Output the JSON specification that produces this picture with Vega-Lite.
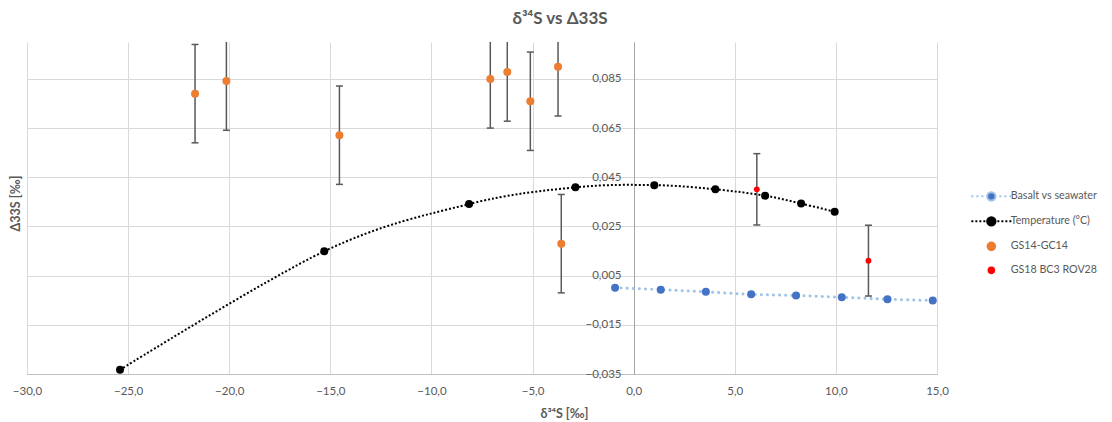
{
  "$schema": "https://vega.github.io/schema/vega-lite/v6.json",
  "width": 910,
  "height": 332,
  "autosize": {"type": "none"},
  "padding": {"left": 27, "top": 42, "right": 175, "bottom": 48},
  "background": "white",
  "title": {"text": "δ³⁴S vs Δ33S", "fontSize": 17, "font": "Lato", "fontWeight": "bold", "color": "#595959", "anchor": "middle", "frame": "group", "dx": 78, "offset": 14},
  "config": {
    "view": {"stroke": null},
    "axis": {"labelFont": "Lato", "labelFontSize": 11.5, "labelColor": "#595959", "titleFont": "Lato", "titleFontSize": 12.5, "titleFontWeight": "bold", "titleColor": "#595959", "gridColor": "#D9D9D9", "gridWidth": 1, "ticks": false},
    "legend": {"title": null, "orient": "none", "legendX": 959, "legendY": 149, "symbolSize": 64, "symbolOpacity": 1, "labelOffset": 14, "rowPadding": 8, "symbolStrokeWidth": 2, "labelFont": "Lato", "labelFontSize": 10.7, "labelColor": "#595959"}
  },
  "data": {"values": [
    {"series": "Basalt vs seawater", "x": -0.92, "y": 0.0001},
    {"series": "Basalt vs seawater", "x": 1.34, "y": -0.0007},
    {"series": "Basalt vs seawater", "x": 3.57, "y": -0.0016},
    {"series": "Basalt vs seawater", "x": 5.81, "y": -0.0026},
    {"series": "Basalt vs seawater", "x": 8.03, "y": -0.0031},
    {"series": "Basalt vs seawater", "x": 10.29, "y": -0.0038},
    {"series": "Basalt vs seawater", "x": 12.55, "y": -0.0046},
    {"series": "Basalt vs seawater", "x": 14.79, "y": -0.0051},
    {"series": "Temperature (°C)", "x": -25.4, "y": -0.0333},
    {"series": "Temperature (°C)", "x": -15.3, "y": 0.0149},
    {"series": "Temperature (°C)", "x": -8.14, "y": 0.0341},
    {"series": "Temperature (°C)", "x": -2.88, "y": 0.0409},
    {"series": "Temperature (°C)", "x": 1.02, "y": 0.0418},
    {"series": "Temperature (°C)", "x": 4.04, "y": 0.0401},
    {"series": "Temperature (°C)", "x": 6.5, "y": 0.0375},
    {"series": "Temperature (°C)", "x": 8.28, "y": 0.0343},
    {"series": "Temperature (°C)", "x": 9.94, "y": 0.031},
    {"series": "GS14-GC14", "x": -21.69, "y": 0.079, "lo": 0.059, "hi": 0.099},
    {"series": "GS14-GC14", "x": -20.14, "y": 0.0841, "lo": 0.0641, "hi": 0.1041},
    {"series": "GS14-GC14", "x": -14.55, "y": 0.0621, "lo": 0.0421, "hi": 0.0821},
    {"series": "GS14-GC14", "x": -7.09, "y": 0.085, "lo": 0.065, "hi": 0.105},
    {"series": "GS14-GC14", "x": -6.25, "y": 0.0878, "lo": 0.0678, "hi": 0.1078},
    {"series": "GS14-GC14", "x": -5.11, "y": 0.0759, "lo": 0.0559, "hi": 0.0959},
    {"series": "GS14-GC14", "x": -3.74, "y": 0.0899, "lo": 0.0699, "hi": 0.1099},
    {"series": "GS14-GC14", "x": -3.58, "y": 0.018, "lo": -0.002, "hi": 0.038},
    {"series": "GS18 BC3 ROV28", "x": 6.09, "y": 0.0401, "lo": 0.0256, "hi": 0.0546},
    {"series": "GS18 BC3 ROV28", "x": 11.61, "y": 0.0111, "lo": -0.0033, "hi": 0.0255}
  ]},
  "encoding": {
    "x": {"field": "x", "type": "quantitative",
      "scale": {"domain": [-30, 15], "nice": false, "zero": false},
      "axis": {"title": "δ³⁴S [‰]", "values": [-30, -25, -20, -15, -10, -5, 0, 5, 10, 15],
        "labelExpr": "replace(format(datum.value, '.1f'), '.', ',')",
        "labelFlush": false, "labelOverlap": false, "labelBound": false, "labelPadding": 11,
        "domainColor": "#BFBFBF", "titleX": 537, "titleY": 39, "titleBaseline": "middle"}},
    "y": {"field": "y", "type": "quantitative",
      "scale": {"domain": [-0.035, 0.1], "nice": false, "zero": false},
      "axis": {"title": "Δ33S [‰]", "values": [-0.035, -0.015, 0.005, 0.025, 0.045, 0.065, 0.085],
        "labelExpr": "replace(format(datum.value, '.3f'), '.', ',')",
        "offset": -607, "labelPadding": 13, "labelOverlap": false, "labelBound": false,
        "domainColor": "#A6A6A6", "titleX": -619, "titleY": 161, "titleBaseline": "middle", "titleAngle": -90}}
  },
  "layer": [
    {
      "transform": [{"filter": "false"}],
      "mark": {"type": "point", "filled": true, "opacity": 1},
      "encoding": {
        "fill": {"field": "series", "type": "nominal",
          "scale": {"domain": ["Basalt vs seawater", "Temperature (°C)", "GS14-GC14", "GS18 BC3 ROV28"], "range": ["#4472C4", "#000000", "#ED7D31", "#FF0000"]}},
        "stroke": {"field": "series", "type": "nominal",
          "scale": {"domain": ["Basalt vs seawater", "Temperature (°C)", "GS14-GC14", "GS18 BC3 ROV28"], "range": ["#9DC3E6", "#000000", "#ED7D31", "#FF0000"]}},
        "shape": {"field": "series", "type": "nominal",
          "scale": {"domain": ["Basalt vs seawater", "Temperature (°C)", "GS14-GC14", "GS18 BC3 ROV28"],
            "range": [
              "M-5,0L-4.5,0M-3.75,0L-3.25,0M-2.5,0L-2,0M2,0L2.5,0M3.25,0L3.75,0M4.5,0L5,0M1.05,0A1.05,1.05,0,1,1,-1.05,0A1.05,1.05,0,1,1,1.05,0Z",
              "M-5,0L-4.5,0M-4,0L-3.5,0M-3,0L-2.5,0M-2,0L-1.5,0M1.5,0L2,0M2.5,0L3,0M3.5,0L4,0M4.5,0L5,0M1.05,0A1.05,1.05,0,1,1,-1.05,0A1.05,1.05,0,1,1,1.05,0Z",
              "M0.95,0A0.95,0.95,0,1,1,-0.95,0A0.95,0.95,0,1,1,0.95,0Z",
              "M0.7,0A0.7,0.7,0,1,1,-0.7,0A0.7,0.7,0,1,1,0.7,0Z"]}}
      }
    },
    {
      "transform": [{"filter": "datum.series === 'Basalt vs seawater'"}],
      "mark": {"type": "line", "interpolate": "cardinal", "color": "#9DC3E6", "strokeWidth": 3, "strokeDash": [0.1, 6], "strokeCap": "round", "clip": true},
      "encoding": {}
    },
    {
      "transform": [{"filter": "datum.series === 'Temperature (°C)'"}],
      "mark": {"type": "line", "interpolate": "cardinal", "color": "#000000", "strokeWidth": 2, "strokeDash": [2, 2], "clip": true},
      "encoding": {}
    },
    {
      "transform": [{"filter": "isValid(datum.lo)"}],
      "mark": {"type": "rule", "color": "#595959", "strokeWidth": 1.5, "clip": true},
      "encoding": {"y": {"field": "lo", "type": "quantitative", "axis": {"title": "Δ33S [‰]"}}, "y2": {"field": "hi"}}
    },
    {
      "transform": [{"filter": "isValid(datum.lo)"}],
      "mark": {"type": "tick", "orient": "horizontal", "color": "#595959", "size": 7, "thickness": 1.5, "clip": true, "opacity": 1},
      "encoding": {"y": {"field": "lo", "type": "quantitative", "axis": {"title": "Δ33S [‰]"}}}
    },
    {
      "transform": [{"filter": "isValid(datum.hi)"}],
      "mark": {"type": "tick", "orient": "horizontal", "color": "#595959", "size": 7, "thickness": 1.5, "clip": true, "opacity": 1},
      "encoding": {"y": {"field": "hi", "type": "quantitative", "axis": {"title": "Δ33S [‰]"}}}
    },
    {
      "transform": [{"filter": "datum.series !== 'GS18 BC3 ROV28'"}],
      "mark": {"type": "point", "filled": true, "size": 64, "opacity": 1, "strokeWidth": 0},
      "encoding": {"fill": {"field": "series", "type": "nominal"}}
    },
    {
      "transform": [{"filter": "datum.series === 'GS18 BC3 ROV28'"}],
      "mark": {"type": "point", "filled": true, "size": 34, "opacity": 1, "strokeWidth": 0},
      "encoding": {"fill": {"field": "series", "type": "nominal"}}
    }
  ]
}
